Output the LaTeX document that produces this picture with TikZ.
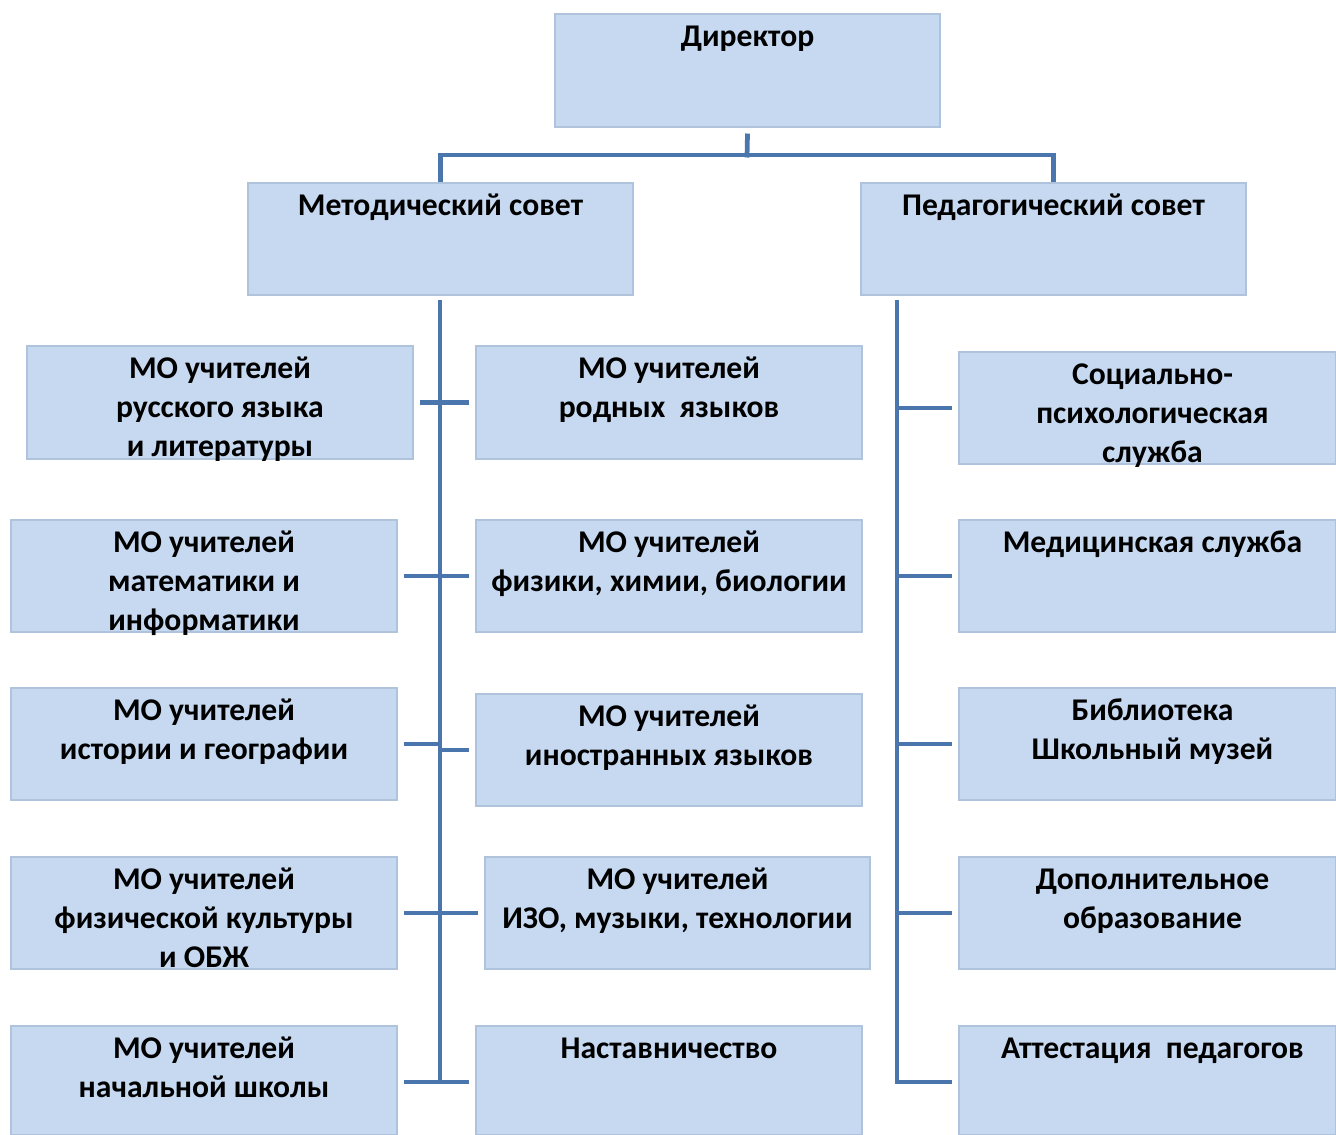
\documentclass[tikz,border=0pt]{standalone}
\usepackage{fontspec}
\setmainfont{Carlito}
\usetikzlibrary{fit}
\definecolor{boxfill}{HTML}{C6D9F1}
\definecolor{boxedge}{HTML}{AFC3DC}
\definecolor{conncol}{HTML}{4A76AD}
\tikzset{
  box/.style={fill=boxfill, draw=boxedge, line width=0.6pt, inner sep=0pt},
  txt/.style={anchor=north, inner sep=0pt, align=center, text=black,
    font=\bfseries\fontsize{18}{22}\selectfont},
  conn/.style={draw=conncol, line width=2.7pt}
}
\begin{document}
\begin{tikzpicture}[x=0.02cm, y=-0.02cm]
\useasboundingbox[fill=white] (0,0) rectangle (1336,1135);
% boxes
\node[box, fit={(555,14) (940,127)}] (d) {};
\node[box, fit={(248,183) (633,295)}] (ms) {};
\node[box, fit={(861,183) (1246,295)}] (ps) {};
\node[box, fit={(27,346) (413,459)}] (L1) {};
\node[box, fit={(476,346) (862,459)}] (M1) {};
\node[box, fit={(959,352) (1336,464)}] (R1) {};
\node[box, fit={(11,520) (397,632)}] (L2) {};
\node[box, fit={(476,520) (862,632)}] (M2) {};
\node[box, fit={(959,520) (1336,632)}] (R2) {};
\node[box, fit={(11,688) (397,800)}] (L3) {};
\node[box, fit={(476,694) (862,806)}] (M3) {};
\node[box, fit={(959,688) (1336,800)}] (R3) {};
\node[box, fit={(11,857) (397,969)}] (L4) {};
\node[box, fit={(485,857) (870,969)}] (M4) {};
\node[box, fit={(959,857) (1336,969)}] (R4) {};
\node[box, fit={(11,1026) (397,1135)}] (L5) {};
\node[box, fit={(476,1026) (862,1135)}] (M5) {};
\node[box, fit={(959,1026) (1336,1135)}] (R5) {};
% texts
\node[txt] (dt) at ([yshift=-0.12cm]d.north) {\strut Директор};
\node[txt] (mst) at ([yshift=-0.12cm]ms.north) {\strut Методический совет};
\node[txt] (pst) at ([yshift=-0.12cm]ps.north) {\strut Педагогический совет};
\node[txt] (L1t) at ([yshift=-0.12cm]L1.north) {\strut МО учителей\\русского языка\\и литературы};
\node[txt] (M1t) at ([yshift=-0.12cm]M1.north) {\strut МО учителей\\родных\ \ языков};
\node[txt] (R1t) at ([xshift=0.1cm,yshift=-0.12cm]R1.north) {\strut Социально-\\психологическая\\служба};
\node[txt] (L2t) at ([yshift=-0.12cm]L2.north) {\strut МО учителей\\математики и\\информатики};
\node[txt] (M2t) at ([yshift=-0.12cm]M2.north) {\strut МО учителей\\физики, химии, биологии};
\node[txt] (R2t) at ([xshift=0.1cm,yshift=-0.12cm]R2.north) {\strut Медицинская служба};
\node[txt] (L3t) at ([yshift=-0.12cm]L3.north) {\strut МО учителей\\истории и географии};
\node[txt] (M3t) at ([yshift=-0.12cm]M3.north) {\strut МО учителей\\иностранных языков};
\node[txt] (R3t) at ([xshift=0.1cm,yshift=-0.12cm]R3.north) {\strut Библиотека\\Школьный музей};
\node[txt] (L4t) at ([yshift=-0.12cm]L4.north) {\strut МО учителей\\физической культуры\\и ОБЖ};
\node[txt] (M4t) at ([yshift=-0.12cm]M4.north) {\strut МО учителей\\ИЗО, музыки, технологии};
\node[txt] (R4t) at ([xshift=0.1cm,yshift=-0.12cm]R4.north) {\strut Дополнительное\\образование};
\node[txt] (L5t) at ([yshift=-0.12cm]L5.north) {\strut МО учителей\\начальной школы};
\node[txt] (M5t) at ([yshift=-0.12cm]M5.north) {\strut Наставничество};
\node[txt] (R5t) at ([xshift=0.1cm,yshift=-0.12cm]R5.north) {\strut Аттестация\ \ педагогов};
% connectors
\coordinate (bar) at (747,155);
\draw[conn] ([yshift=-0.12cm]d.south) -- ([yshift=-0.05cm]bar);
\draw[conn] (ms.north) -- (ms.north |- bar) -- (ps.north |- bar) -- (ps.north);
% left trunk
\coordinate (lt) at (440,300);
\coordinate (lb) at (440,1082);
\draw[conn] (lt) -- (lb);
\draw[conn] ([xshift=0.12cm]L1.east) -- ([xshift=-0.12cm]M1.west);
\draw[conn] ([xshift=0.12cm]L2.east) -- ([xshift=-0.12cm]M2.west);
\draw[conn] ([xshift=0.12cm]L3.east) -- (L3.east -| lt);
\draw[conn] (M3.west -| lt) -- ([xshift=-0.12cm]M3.west);
\draw[conn] ([xshift=0.12cm]L4.east) -- ([xshift=-0.12cm]M4.west);
\draw[conn] ([xshift=0.12cm,yshift=-0.03cm]L5.east) -- ([xshift=-0.12cm,yshift=-0.03cm]M5.west);
% right trunk
\coordinate (rt) at (897,300);
\draw[conn] (rt) |- ([xshift=-0.12cm,yshift=-0.03cm]R5.west);
\draw[conn] (R1.west -| rt) -- ([xshift=-0.12cm]R1.west);
\draw[conn] (R2.west -| rt) -- ([xshift=-0.12cm]R2.west);
\draw[conn] (R3.west -| rt) -- ([xshift=-0.12cm]R3.west);
\draw[conn] (R4.west -| rt) -- ([xshift=-0.12cm]R4.west);
\end{tikzpicture}
\end{document}
